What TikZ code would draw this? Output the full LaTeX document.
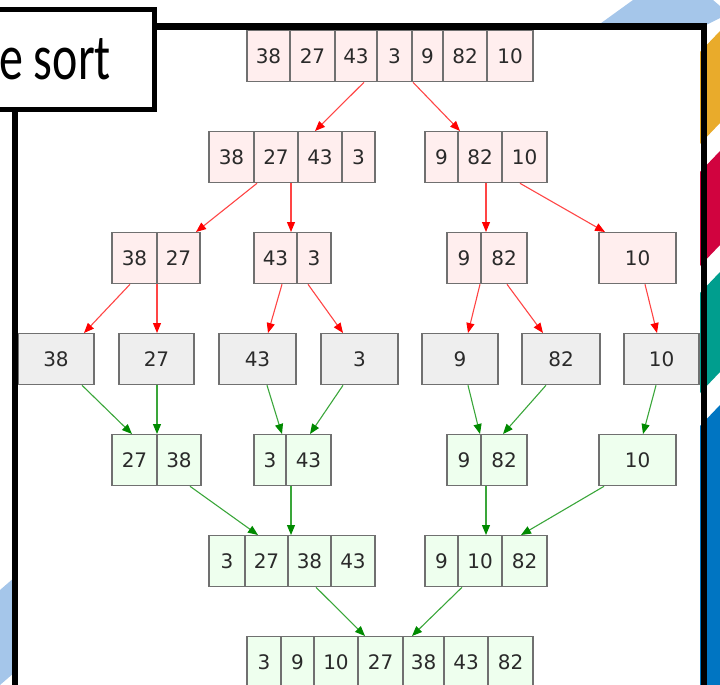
\documentclass[tikz,border=0pt]{standalone}
\usepackage{fontspec}
\setmainfont{DejaVu Sans}
\newfontfamily\titlefont{Carlito}
\usetikzlibrary{arrows.meta}

\definecolor{splitfill}{HTML}{FFEEEE}
\definecolor{leaffill}{HTML}{EEEEEE}
\definecolor{mergefill}{HTML}{EEFFEE}
\definecolor{cellline}{HTML}{707070}
\definecolor{celltext}{HTML}{2A2A2A}
\definecolor{splitline}{HTML}{FF4545}
\definecolor{splithead}{HTML}{FF0000}
\definecolor{mergeline}{HTML}{3AA63A}
\definecolor{mergehead}{HTML}{008A00}
\definecolor{stripeltblue}{HTML}{A5C6EA}
\definecolor{stripeorange}{HTML}{E9AB2B}
\definecolor{stripecrimson}{HTML}{D1033F}
\definecolor{stripeteal}{HTML}{009E8E}
\definecolor{stripeblue}{HTML}{0075C2}

\tikzset{
  cell/.style={draw=cellline, line width=1.3pt, minimum height=51pt,
    inner sep=0pt, text=celltext, anchor=north,
    font=\fontsize{20}{22}\selectfont},
  redge/.style={draw=splitline, line width=1.1pt,
    -{Triangle[length=10pt,width=8pt,color=splithead]}},
  gedge/.style={draw=mergeline, line width=1.1pt,
    -{Triangle[length=10pt,width=8pt,color=mergehead]}},
  frameline/.style={draw=black, line width=6.5pt},
  titlebox/.style={draw=black, fill=white, line width=4.5pt},
}

% one record: name, top edge, fill, list of left/right/value
\newcommand\record[4]{%
  \foreach \xa/\xb/\v [count=\i] in {#4} {%
    \node[cell, fill=#3, minimum width={(\xb-\xa)*1pt}] (#1-\i)
      at ({(\xa+\xb)/2},#2) {\v};
  }%
}

\begin{document}
\begin{tikzpicture}[x=1pt,y=-1pt]
\useasboundingbox (0,0) rectangle (720,685);
\clip (0,0) rectangle (720,685);

% decorative stripes
\fill[stripeltblue] (597,26) -- (633,0) -- (713,0) -- (720,6) -- (720,18) -- (704,26) -- cycle;
\fill[stripeorange] (700,52) -- (720,31) -- (720,123) -- (700,144) -- cycle;
\fill[stripecrimson] (700,172) -- (720,151) -- (720,245) -- (700,266) -- cycle;
\fill[stripeteal] (700,293) -- (720,272) -- (720,372) -- (700,393) -- cycle;
\fill[stripeblue] (700,426) -- (720,405) -- (720,685) -- (700,685) -- cycle;
\fill[stripeltblue] (0,590) -- (15,577) -- (15,672) -- (0,685) -- cycle;

% split phase
\record{r1}{30}{splitfill}{247/290/38, 290/335/27, 335/377/43, 377/412/3, 412/443/9, 443/487/82, 487/533/10}
\record{r2a}{131}{splitfill}{209/254/38, 254/298/27, 298/342/43, 342/375/3}
\record{r2b}{131}{splitfill}{425/458/9, 458/502/82, 502/547/10}
\record{r3a}{232}{splitfill}{112/157/38, 157/200/27}
\record{r3b}{232}{splitfill}{254/297/43, 297/331/3}
\record{r3c}{232}{splitfill}{447/481/9, 481/527/82}
\record{r3d}{232}{splitfill}{599/676/10}

% single elements
\record{r4a}{333}{leaffill}{18/94/38}
\record{r4b}{333}{leaffill}{119/194/27}
\record{r4c}{333}{leaffill}{219/296/43}
\record{r4d}{333}{leaffill}{321/398/3}
\record{r4e}{333}{leaffill}{422/498/9}
\record{r4f}{333}{leaffill}{522/600/82}
\record{r4g}{333}{leaffill}{624/699/10}

% merge phase
\record{r5a}{434}{mergefill}{112/157/27, 157/201/38}
\record{r5b}{434}{mergefill}{254/286/3, 286/331/43}
\record{r5c}{434}{mergefill}{447/481/9, 481/527/82}
\record{r5d}{434}{mergefill}{599/676/10}
\record{r6a}{535}{mergefill}{209/245/3, 245/288/27, 288/331/38, 331/375/43}
\record{r6b}{535}{mergefill}{425/458/9, 458/502/10, 502/547/82}
\record{r7}{636}{mergefill}{247/281/3, 281/314/9, 314/358/10, 358/403/27, 403/444/38, 444/488/43, 488/533/82}

% split edges
\draw[redge] ([xshift=8]r1-3.south) -- ([xshift=-5]r2a-3.north);
\draw[redge] ([xshift=-14.5]r1-5.south) -- ([xshift=-20]r2b-2.north);
\draw[redge] ([xshift=-19]r2a-2.south) -- ([xshift=17.5]r3a-2.north);
\draw[redge] ([xshift=15]r2a-2.south) -- ([xshift=15.5]r3b-1.north);
\draw[redge] ([xshift=6]r2b-2.south) -- ([xshift=-18]r3c-2.north);
\draw[redge] ([xshift=-4.5]r2b-3.south) -- ([xshift=-32.5]r3d-1.north);
\draw[redge] ([xshift=-4.5]r3a-1.south) -- ([xshift=28]r4a-1.north);
\draw[redge] ([xshift=-21.5]r3a-2.south) -- ([xshift=0.5]r4b-1.north);
\draw[redge] ([xshift=6.5]r3b-1.south) -- ([xshift=10.5]r4c-1.north);
\draw[redge] ([xshift=-6]r3b-2.south) -- ([xshift=-16.5]r4d-1.north);
\draw[redge] ([xshift=16]r3c-1.south) -- ([xshift=8]r4e-1.north);
\draw[redge] ([xshift=3]r3c-2.south) -- ([xshift=-18]r4f-1.north);
\draw[redge] ([xshift=7.5]r3d-1.south) -- ([xshift=-4.5]r4g-1.north);

% merge edges
\draw[gedge] ([xshift=26]r4a-1.south) -- ([xshift=-2.5]r5a-1.north);
\draw[gedge] ([xshift=0.5]r4b-1.south) -- ([xshift=22.5]r5a-1.north);
\draw[gedge] ([xshift=9.5]r4c-1.south) -- ([xshift=12]r5b-1.north);
\draw[gedge] ([xshift=-16.5]r4d-1.south) -- ([xshift=1.5]r5b-2.north);
\draw[gedge] ([xshift=8]r4e-1.south) -- ([xshift=16]r5c-1.north);
\draw[gedge] ([xshift=-15]r4f-1.south) -- ([xshift=-1]r5c-2.north);
\draw[gedge] ([xshift=-5.5]r4g-1.south) -- ([xshift=5.5]r5d-1.north);
\draw[gedge] ([xshift=11]r5a-2.south) -- ([xshift=-8.5]r6a-2.north);
\draw[gedge] ([xshift=-17.5]r5b-2.south) -- ([xshift=-18.5]r6a-3.north);
\draw[gedge] ([xshift=-18]r5c-2.south) -- ([xshift=6]r6b-2.north);
\draw[gedge] ([xshift=-33.5]r5d-1.south) -- ([xshift=-3.5]r6b-3.north);
\draw[gedge] ([xshift=6.5]r6a-3.south) -- ([xshift=-15.5]r7-4.north);
\draw[gedge] ([xshift=-18]r6b-2.south) -- ([xshift=-11.5]r7-5.north);

% slide frame and title
\draw[frameline] (15,26.5) rectangle (704,720);
\draw[titlebox] (-20,9.5) rectangle (154.5,109.5);
\node[anchor=base east, inner sep=0pt, font=\titlefont\fontsize{48}{50}\selectfont] (title) at (111,80) {\scalebox{1}[1.35]{Merge sort}};
\end{tikzpicture}
\end{document}
